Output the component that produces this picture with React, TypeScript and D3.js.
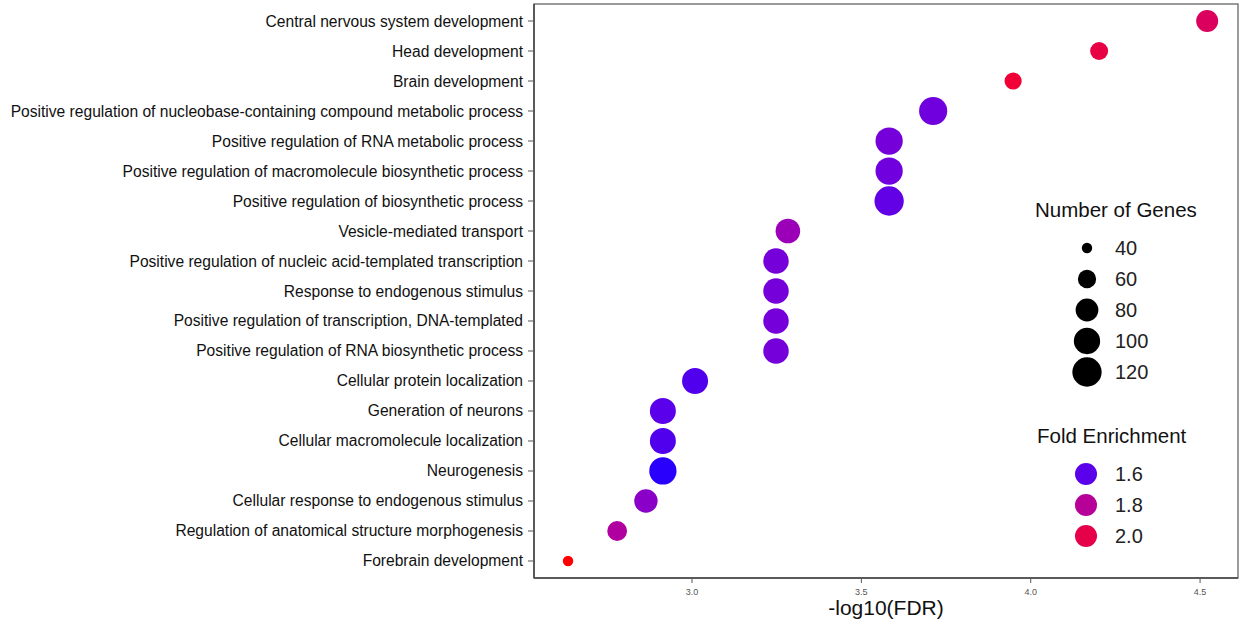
import React from "react";
import * as d3 from "d3";

const terms = [
  "Central nervous system development",
  "Head development",
  "Brain development",
  "Positive regulation of nucleobase-containing compound metabolic process",
  "Positive regulation of RNA metabolic process",
  "Positive regulation of macromolecule biosynthetic process",
  "Positive regulation of biosynthetic process",
  "Vesicle-mediated transport",
  "Positive regulation of nucleic acid-templated transcription",
  "Response to endogenous stimulus",
  "Positive regulation of transcription, DNA-templated",
  "Positive regulation of RNA biosynthetic process",
  "Cellular protein localization",
  "Generation of neurons",
  "Cellular macromolecule localization",
  "Neurogenesis",
  "Cellular response to endogenous stimulus",
  "Regulation of anatomical structure morphogenesis",
  "Forebrain development",
];
const negLog10FDR = [4.521, 4.202, 3.948, 3.712, 3.582, 3.582, 3.582, 3.283, 3.248, 3.248, 3.248, 3.248, 3.009, 2.914, 2.914, 2.914, 2.864, 2.779, 2.634];
const geneCount = [76, 59, 56, 112, 106, 106, 120, 90, 95, 95, 95, 95, 98, 98, 98, 106, 83, 66, 40];
const foldEnrichment = [1.95, 2.01, 2.05, 1.63, 1.64, 1.63, 1.61, 1.72, 1.64, 1.64, 1.64, 1.64, 1.59, 1.6, 1.59, 1.56, 1.68, 1.78, 2.2];

const xTicks = [3.0, 3.5, 4.0, 4.5];
const sizeLegend = [40, 60, 80, 100, 120];
const colorLegend = [1.6, 1.8, 2.0];

export default function App() {
  const W = 1244, H = 626;
  const left = 534, right = 1238, top = 4, bottom = 578;
  const x = d3.scaleLinear().domain([2.5335, 4.612]).range([left, right]);
  const y = d3.scalePoint<string>().domain(terms).range([top, bottom]).padding(0.567);
  const rNorm = d3.scaleSqrt().domain([0, 88]).range([0, 12]).clamp(true);
  const r = (v: number) => 3 + rNorm(v - 37);
  const color = d3
    .scaleLinear<string>()
    .domain([1.55, 2.13])
    .range(["#0000ff", "#ff0000"])
    .interpolate(d3.interpolateLab)
    .clamp(true);
  const font = "'Liberation Sans', Arial, Helvetica, sans-serif";

  return (
    <svg width={W} height={H} style={{ position: "absolute", left: 0, top: 0, background: "#fff" }} fontFamily={font}>
      <rect x={0} y={0} width={W} height={H} fill="#fff" />
      {/* panel border */}
      <rect x={left} y={top} width={right - left} height={bottom - top} fill="none" stroke="#666" strokeWidth={1.3} />
      <line x1={left} x2={left} y1={top} y2={bottom} stroke="#444" strokeWidth={1.5} />
      <line x1={left} x2={right} y1={bottom} y2={bottom} stroke="#444" strokeWidth={1.5} />
      {/* y axis */}
      {terms.map((t) => (
        <g key={t}>
          <line x1={left - 6} x2={left} y1={y(t)} y2={y(t)} stroke="#555" strokeWidth={1} />
          <text x={left - 11} y={y(t)} textAnchor="end" dominantBaseline="central" fontSize={15.6} fill="#111">
            {t}
          </text>
        </g>
      ))}
      {/* x axis */}
      {xTicks.map((t) => (
        <g key={t}>
          <line x1={x(t)} x2={x(t)} y1={bottom} y2={bottom + 5} stroke="#555" strokeWidth={1} />
          <text x={x(t)} y={bottom + 14} textAnchor="middle" dominantBaseline="central" fontSize={9} fill="#555">
            {t.toFixed(1)}
          </text>
        </g>
      ))}
      <text x={(left + right) / 2} y={615} textAnchor="middle" fontSize={21} fill="#111">
        -log10(FDR)
      </text>
      {/* points */}
      {terms.map((t, i) => (
        <circle key={t} cx={x(negLog10FDR[i])} cy={y(t)} r={r(geneCount[i])} fill={color(foldEnrichment[i])} />
      ))}
      {/* size legend */}
      <text x={1035} y={217} fontSize={20.5} fill="#111">Number of Genes</text>
      {sizeLegend.map((v, i) => (
        <g key={v}>
          <circle cx={1087} cy={248 + i * 31} r={r(v)} fill="#000" />
          <text x={1115} y={248 + i * 31} dominantBaseline="central" fontSize={20} fill="#222">
            {v}
          </text>
        </g>
      ))}
      {/* color legend */}
      <text x={1037} y={443} fontSize={20.5} fill="#111">Fold Enrichment</text>
      {colorLegend.map((v, i) => (
        <g key={v}>
          <circle cx={1086} cy={474 + i * 31} r={11} fill={color(v)} />
          <text x={1115} y={474 + i * 31} dominantBaseline="central" fontSize={20} fill="#222">
            {v.toFixed(1)}
          </text>
        </g>
      ))}
    </svg>
  );
}
